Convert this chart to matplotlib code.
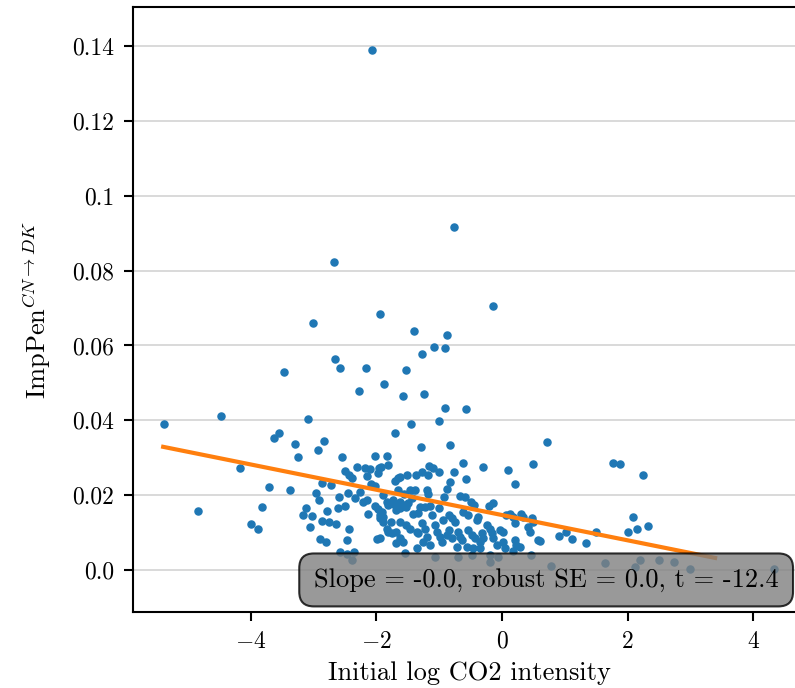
import numpy as np
import matplotlib
matplotlib.use("Agg")
import matplotlib.pyplot as plt

plt.rcParams['font.family'] = 'serif'
plt.rcParams['font.serif'] = ['cmr10']
plt.rcParams['mathtext.fontset'] = 'cm'
plt.rcParams['axes.formatter.use_mathtext'] = True
plt.rcParams['axes.unicode_minus'] = True

# scatter data: initial log CO2 intensity vs import penetration CN -> DK
log_co2 = [
    -2.07, -0.77, -2.68, -0.15, -3.00, -1.94, -1.40, -0.88, -1.08, -0.91,
    -1.27, -2.66, -2.58, -2.16, -3.46, -1.53, -1.88, -2.28, -1.58, -1.24,
    -0.91, -0.58, -3.08, -1.45, -1.01, -3.55, -3.63, -1.71, -2.83, -3.29,
    -0.83, -1.29, -5.38, -4.47, -3.25, -4.17, -3.70, -3.38, -4.84, -3.81,
    -4.00, -3.88, 0.71, 1.76, 1.87, 2.24, 2.08, 2.00, 2.15, 2.32,
    1.50, 1.33, 1.12, 1.02, 0.90, 0.60, 0.78, 1.64, 2.11, 2.20,
    2.49, 2.73, 2.99, 4.33, -2.93, -2.54, -2.02, -1.83, -1.81, -2.31,
    -2.18, -2.10, -1.96, -1.93, -2.50, -2.43, -2.39, -2.14, -1.97, -1.70,
    -1.66, -1.62, -1.51, -1.37, -2.87, -2.72, -2.26, -2.08, -2.02, -1.89,
    -2.45, -2.59, -2.96, -2.91, -2.34, -2.21, -2.15, -1.83, -1.81, -2.49,
    -2.61, -3.12, -2.78, -2.02, -1.97, -1.91, -1.89, -1.94, -2.13, -1.68,
    -1.70, -3.17, -3.03, -2.87, -2.76, -2.64, -3.05, -2.43, -1.83, -1.75,
    -1.81, -1.68, -2.89, -2.80, -2.46, -1.99, -1.94, -1.68, -2.57, -2.47,
    -2.36, -2.38, -1.62, -1.57, -1.52, -1.49, -1.73, -1.76, -1.62, -1.52,
    -1.46, -1.36, -1.62, -1.57, -1.62, -1.41, -1.54, -1.36, -1.94, -1.89,
    -0.62, -0.31, 0.09, 0.49, 0.20, -1.16, -1.09, -1.01, -1.27, -1.18,
    -0.76, -0.58, -0.82, -0.88, -1.38, -1.20, -1.17, -0.93, -0.67, -0.59,
    -0.49, -0.44, -0.21, -0.15, -1.30, -1.23, -1.15, -1.00, -0.85, -0.80,
    -0.62, -0.54, -0.38, -0.40, -0.24, -0.19, -0.16, -0.03, 0.02, 0.13,
    0.18, 0.21, 0.31, 0.34, 0.47, 0.50, 0.58, 0.42, 0.45, 0.21,
    0.23, 0.29, 0.02, 0.05, -0.14, -0.32, -0.30, -0.35, -0.54, -0.48,
    -0.43, -0.70, -0.67, -0.64, -0.85, -0.88, -0.80, -1.07, -1.04, -0.99,
    -0.96, -1.28, -1.23, -1.33, -1.20, -1.25, -1.15, -0.72, -0.56, -0.46,
    -0.35, -1.07, -0.70, -0.48, -0.19, 0.46, -0.08, 0.18, -0.06, -0.19,
    0.07, -1.34, -1.11, -0.94, -0.75, -1.46, -1.56, -1.43, -1.65,
]
imp_pen = [
    0.1389, 0.0917, 0.0822, 0.0705, 0.0661, 0.0683, 0.0638, 0.0629, 0.0597, 0.0593,
    0.0577, 0.0563, 0.0540, 0.0540, 0.0529, 0.0534, 0.0497, 0.0478, 0.0464, 0.0471,
    0.0432, 0.0429, 0.0404, 0.0391, 0.0397, 0.0366, 0.0352, 0.0365, 0.0345, 0.0336,
    0.0333, 0.0330, 0.0390, 0.0412, 0.0302, 0.0273, 0.0222, 0.0215, 0.0158, 0.0168,
    0.0123, 0.0109, 0.0343, 0.0285, 0.0284, 0.0254, 0.0142, 0.0102, 0.0111, 0.0117,
    0.0102, 0.0071, 0.0082, 0.0103, 0.0092, 0.0078, 0.0012, 0.0020, 0.0009, 0.0027,
    0.0026, 0.0021, 0.0003, 0.0003, 0.0322, 0.0302, 0.0306, 0.0306, 0.0281, 0.0274,
    0.0273, 0.0271, 0.0272, 0.0275, 0.0264, 0.0254, 0.0247, 0.0251, 0.0260, 0.0239,
    0.0246, 0.0248, 0.0253, 0.0255, 0.0232, 0.0226, 0.0209, 0.0230, 0.0224, 0.0200,
    0.0207, 0.0196, 0.0205, 0.0187, 0.0193, 0.0181, 0.0187, 0.0181, 0.0174, 0.0171,
    0.0165, 0.0166, 0.0158, 0.0172, 0.0162, 0.0154, 0.0142, 0.0147, 0.0151, 0.0160,
    0.0174, 0.0147, 0.0145, 0.0132, 0.0129, 0.0122, 0.0116, 0.0111, 0.0111, 0.0098,
    0.0102, 0.0102, 0.0082, 0.0076, 0.0079, 0.0082, 0.0086, 0.0071, 0.0049, 0.0042,
    0.0047, 0.0027, 0.0182, 0.0174, 0.0169, 0.0178, 0.0187, 0.0129, 0.0129, 0.0120,
    0.0111, 0.0102, 0.0085, 0.0076, 0.0165, 0.0151, 0.0045, 0.0058, 0.0138, 0.0129,
    0.0285, 0.0276, 0.0267, 0.0282, 0.0231, 0.0279, 0.0272, 0.0261, 0.0263, 0.0254,
    0.0261, 0.0243, 0.0236, 0.0216, 0.0214, 0.0214, 0.0203, 0.0194, 0.0199, 0.0194,
    0.0183, 0.0174, 0.0172, 0.0180, 0.0169, 0.0169, 0.0171, 0.0166, 0.0147, 0.0138,
    0.0156, 0.0147, 0.0142, 0.0135, 0.0120, 0.0111, 0.0098, 0.0107, 0.0102, 0.0151,
    0.0142, 0.0125, 0.0151, 0.0142, 0.0138, 0.0129, 0.0080, 0.0116, 0.0102, 0.0080,
    0.0067, 0.0062, 0.0076, 0.0058, 0.0085, 0.0098, 0.0085, 0.0076, 0.0107, 0.0094,
    0.0085, 0.0102, 0.0089, 0.0080, 0.0107, 0.0094, 0.0085, 0.0120, 0.0102, 0.0089,
    0.0076, 0.0125, 0.0111, 0.0098, 0.0089, 0.0076, 0.0067, 0.0062, 0.0062, 0.0058,
    0.0058, 0.0036, 0.0036, 0.0040, 0.0040, 0.0040, 0.0067, 0.0051, 0.0034, 0.0022,
    0.0147, 0.0152, 0.0147, 0.0134, 0.0128, 0.0214, 0.0203, 0.0192, 0.0214,
]

# robust regression fit line
fit_intercept = 0.0147
fit_slope = -0.00338
fit_xmin, fit_xmax = -5.39, 3.39

yticks = [0.0, 0.02, 0.04, 0.06, 0.08, 0.1, 0.12, 0.14]
ytick_labels = ['0.0', '0.02', '0.04', '0.06', '0.08', '0.1', '0.12', '0.14']
stats_text = 'Slope = -0.0, robust SE = 0.0, t = -12.4'

fig = plt.figure(figsize=(7.95, 6.88), dpi=100)
ax = fig.add_axes([133/795, 76/688, 672/795, 605/688])

ax.yaxis.grid(True, color='#d3d3d3', lw=1.2, zorder=0)
ax.set_axisbelow(True)

ax.scatter(log_co2, imp_pen, s=26, color='#1f77b4', zorder=2)

fx = np.array([fit_xmin, fit_xmax])
ax.plot(fx, fit_intercept + fit_slope*fx, color='#ff7f0e', lw=3, zorder=3)

ax.set_xlim(-5.87, 4.82)
ax.set_ylim(-0.0112, 0.1504)
ax.set_xticks([-4, -2, 0, 2, 4])
ax.set_yticks(yticks)
ax.set_yticklabels(ytick_labels)
ax.tick_params(labelsize=17, length=6.5, width=1.5, pad=7)

for side in ['left', 'top', 'bottom', 'right']:
    ax.spines[side].set_linewidth(1.5)

ax.set_xlabel('Initial log CO2 intensity', fontsize=19, labelpad=6)
ax.set_ylabel(r'ImpPen$^{CN\rightarrow DK}$', fontsize=19, labelpad=14)

ax.text(0.269, 0.053, stats_text, transform=ax.transAxes, fontsize=19,
        ha='left', va='center', zorder=5,
        bbox=dict(boxstyle='round,pad=0.55', facecolor='gray', alpha=0.8, lw=1.5))

fig.savefig('out.png', dpi=100)
